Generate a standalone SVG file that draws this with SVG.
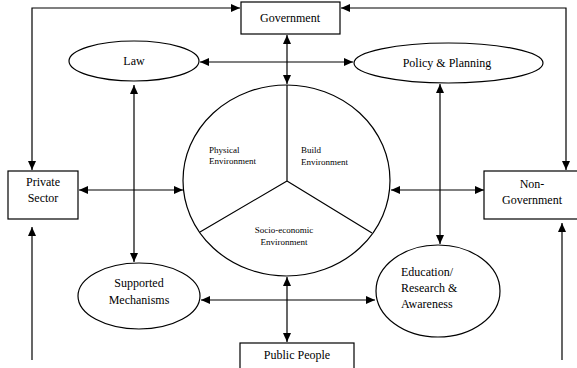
<svg xmlns="http://www.w3.org/2000/svg" width="577" height="368" viewBox="0 0 577 368">
<style>
.box{fill:#fff;stroke:#000;stroke-width:1.2}
.ln{fill:none;stroke:#000;stroke-width:1.2}
text{font-family:'Liberation Serif','Times New Roman',Times,serif;fill:#000}
.t{font-size:12px}
.s{font-size:9px}
.c{text-anchor:middle}
</style>
<defs>
<marker id="ah" markerUnits="userSpaceOnUse" markerWidth="10" markerHeight="8" refX="9" refY="4" orient="auto-start-reverse">
<path d="M0,0 L9,4 L0,8 Z" fill="#000"/>
</marker>
</defs>
<rect width="577" height="368" fill="#fff"/>
<g id="connectors">
<path class="ln" d="M32,170 V8 H240" marker-start="url(#ah)" marker-end="url(#ah)"/>
<path class="ln" d="M341,8 H566 V170" marker-start="url(#ah)" marker-end="url(#ah)"/>
<path class="ln" d="M32,360 V227" marker-end="url(#ah)"/>
<path class="ln" d="M562,360 V223" marker-end="url(#ah)"/>
<path class="ln" d="M287,35 V84" marker-start="url(#ah)" marker-end="url(#ah)"/>
<path class="ln" d="M200,62 H353" marker-start="url(#ah)" marker-end="url(#ah)"/>
<path class="ln" d="M79,190 H183" marker-start="url(#ah)" marker-end="url(#ah)"/>
<path class="ln" d="M391,190 H484" marker-start="url(#ah)" marker-end="url(#ah)"/>
<path class="ln" d="M134,85 V262" marker-start="url(#ah)" marker-end="url(#ah)"/>
<path class="ln" d="M440,84 V244" marker-start="url(#ah)" marker-end="url(#ah)"/>
<path class="ln" d="M201,300 H375" marker-start="url(#ah)" marker-end="url(#ah)"/>
<path class="ln" d="M287,277 V342" marker-start="url(#ah)" marker-end="url(#ah)"/>
</g>
<g id="government">
<rect class="box" x="241" y="2" width="99" height="32"/>
<text class="t c" x="290" y="22" font-family="Liberation Serif">Government</text>
</g>
<g id="law">
<ellipse class="box" cx="134" cy="61" rx="65" ry="20"/>
<text class="t c" x="134" y="65">Law</text>
</g>
<g id="policy">
<ellipse class="box" cx="448.5" cy="63" rx="94.5" ry="20"/>
<text class="t c" x="447" y="67">Policy &amp; Planning</text>
</g>
<g id="private">
<rect class="box" x="8" y="171" width="70" height="48"/>
<text class="t c" x="43" y="186">Private</text>
<text class="t c" x="43" y="202">Sector</text>
</g>
<g id="nongov">
<rect class="box" x="484" y="171" width="100" height="48"/>
<text class="t c" x="532" y="188">Non-</text>
<text class="t c" x="532" y="204">Government</text>
</g>
<g id="environment">
<ellipse class="box" cx="286.5" cy="180.5" rx="103.5" ry="95.5"/>
<path class="ln" d="M287,85 V181 M287,181 L200,232 M287,181 L372,233"/>
<text class="s" x="209" y="153">Physical</text>
<text class="s" x="209" y="164">Environment</text>
<text class="s" x="301" y="153">Build</text>
<text class="s" x="301" y="165">Environment</text>
<text class="s c" x="284" y="233">Socio-economic</text>
<text class="s c" x="284" y="245">Environment</text>
</g>
<g id="supported">
<ellipse class="box" cx="139" cy="296" rx="61" ry="33"/>
<text class="t c" x="139" y="287">Supported</text>
<text class="t c" x="139" y="304">Mechanisms</text>
</g>
<g id="education">
<ellipse class="box" cx="438" cy="291" rx="62" ry="46"/>
<text class="t" x="401" y="276">Education/</text>
<text class="t" x="401" y="292">Research &amp;</text>
<text class="t" x="401" y="308">Awareness</text>
</g>
<g id="public">
<rect class="box" x="240" y="343" width="114" height="40"/>
<text class="t c" x="297" y="359">Public People</text>
</g>
</svg>
